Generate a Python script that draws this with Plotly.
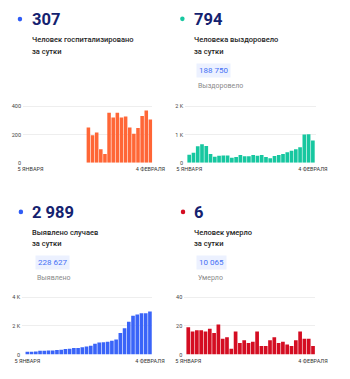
import plotly.graph_objects as go

W, H = 350, 379

# ---------------- data ----------------
day_index = list(range(30))
x_tick_labels = ["5 ЯНВАРЯ", "4 ФЕВРАЛЯ"]

hospitalized = [None] * 14 + [250, 196, 215, 97, 62, 354, 321, 354, 321, 328,
                              250, 206, 247, 331, 370, 307]
recovered = [287, 356, 586, 655, 597, 310, 218, 253, 264, 264, 184, 207, 276, 230, 230,
             276, 253, 276, 207, 161, 241, 276, 310, 379, 425, 483, 552, 1000, 1011, 794]
cases = [206, 206, 210, 270, 274, 276, 278, 320, 343, 389, 411, 452, 460, 503, 571,
         617, 754, 846, 850, 891, 960, 1051, 1509, 1829, 2286, 2697, 2789, 2870, 2880, 2989]
deaths = [19, 16, 17, 17, 16, 18, 15, 21, 11, 12, 4, 16, 8, 10, 8,
          9, 16, 6, 6, 10, 12, 8, 9, 7, 6, 10, 16, 11, 11, 6]

headline = ["307", "794", "2 989", "6"]
caption_1 = ["Человек госпитализировано", "Человека выздоровело", "Выявлено случаев", "Человек умерло"]
caption_2 = ["за сутки", "за сутки", "за сутки", "за сутки"]
totals = [None, "188 750", "228 627", "10 065"]
total_labels = [None, "Выздоровело", "Выявлено", "Умерло"]

y_tick_vals = [[0, 200, 400], [0, 1000, 2000], [0, 2000, 4000], [0, 20, 40]]
y_tick_text = [["0", "200", "400"], ["0", "1 K", "2 K"], ["0", "2 K", "4 K"], ["0", "20", "40"]]

series = [hospitalized, recovered, cases, deaths]
bar_colors = ["#ff6636", "#17c7a0", "#3a64f8", "#d40d22"]
dot_colors = ["#2f5cf5", "#17c7a0", "#2f5cf5", "#d40d22"]

# ---------------- geometry (px) ----------------
def fx(p):
    return p / W

def fy(p):
    return 1 - p / H

# (left, right, first bar centre, slot width, y0 px, ytop px, ymax)
geo = [
    (15, 153, 23.0, 4.41, 163.0, 105.7, 400),
    (188, 328, 192.3, 4.55, 163.0, 105.7, 2000),
    (14, 153, 19.6, 4.51, 357.3, 299.0, 4000),
    (187, 327, 191.3, 4.59, 357.3, 299.0, 40),
]
# header positions: (dot x, dot y, text x, number y, caption y1, caption y2, box x, box y, label y)
hdr = [
    (11.7, 17.3, 22.7, 17.5, 38.5, 50.0, None, None, None),
    (185.0, 17.0, 195.7, 17.5, 38.5, 50.0, 200.0, 69.0, 85.0),
    (12.7, 212.7, 22.7, 213.0, 233.5, 245.0, 27.3, 264.0, 279.5),
    (185.7, 212.7, 195.7, 213.0, 233.5, 245.0, 200.0, 264.0, 279.5),
]

FONT = "Roboto"
fig = go.Figure()
layout = dict(
    width=W, height=H, margin=dict(l=0, r=0, t=0, b=0),
    paper_bgcolor="white", plot_bgcolor="white",
    showlegend=False, bargap=0.14,
    font=dict(family=FONT),
)
annotations = []
shapes = []

for i in range(4):
    L, R, c0, s, y0, ytop, ymax = geo[i]
    pad = 1.025
    top_px = y0 - (y0 - ytop) * pad
    xa = "x" if i == 0 else f"x{i+1}"
    ya = "y" if i == 0 else f"y{i+1}"
    xkey = "xaxis" if i == 0 else f"xaxis{i+1}"
    ykey = "yaxis" if i == 0 else f"yaxis{i+1}"
    fig.add_trace(go.Bar(x=day_index, y=series[i], marker=dict(color=bar_colors[i], line=dict(width=0)),
                         xaxis=xa, yaxis=ya, hoverinfo="skip"))
    layout[xkey] = dict(
        domain=[fx(L), fx(R)], anchor=ya,
        range=[(L - c0) / s, (R - c0) / s],
        tickmode="array", tickvals=[day_index[0], day_index[-1]], ticktext=x_tick_labels,
        tickfont=dict(size=5.5, color="#333333", family=FONT),
        showgrid=False, zeroline=False, showline=False, ticks="", ticklabelstandoff=2,
        fixedrange=True,
    )
    layout[ykey] = dict(
        domain=[fy(y0), fy(top_px)], anchor=xa,
        range=[0, ymax * pad],
        tickmode="array", tickvals=y_tick_vals[i], ticktext=y_tick_text[i],
        tickfont=dict(size=5.5, color="#444444", family=FONT),
        showgrid=True, gridcolor="#eeeeee", gridwidth=1,
        zeroline=False, showline=False, ticks="", ticklabelstandoff=1,
        fixedrange=True,
    )

    dx, dy, tx, ny, c1y, c2y, bx, by, ly = hdr[i]
    shapes.append(dict(type="circle", xref="paper", yref="paper",
                       x0=fx(dx - 2.4), x1=fx(dx + 2.4), y0=fy(dy + 2.4), y1=fy(dy - 2.4),
                       fillcolor=dot_colors[i], line=dict(width=0)))
    annotations.append(dict(text=headline[i], x=fx(tx), y=fy(ny), xref="paper", yref="paper",
                            xanchor="left", yanchor="middle", showarrow=False,
                            font=dict(size=16.5, color="#14226f", family=FONT, weight="bold")))
    annotations.append(dict(text=caption_1[i], x=fx(tx), y=fy(c1y), xref="paper", yref="paper",
                            xanchor="left", yanchor="middle", showarrow=False,
                            font=dict(size=7.5, color="#1e1e1e", family=FONT, weight=500)))
    annotations.append(dict(text=caption_2[i], x=fx(tx), y=fy(c2y), xref="paper", yref="paper",
                            xanchor="left", yanchor="middle", showarrow=False,
                            font=dict(size=7.5, color="#1e1e1e", family=FONT, weight=500)))
    if totals[i]:
        annotations.append(dict(text=totals[i], x=fx(bx), y=fy(by), xref="paper", yref="paper",
                                xanchor="left", yanchor="middle", showarrow=False,
                                bgcolor="#ecf1ff", borderpad=2,
                                font=dict(size=8, color="#4470f5", family=FONT)))
        annotations.append(dict(text=total_labels[i], x=fx(bx), y=fy(ly), xref="paper", yref="paper",
                                xanchor="left", yanchor="middle", showarrow=False,
                                font=dict(size=7, color="#8a8a8a", family=FONT)))

layout["annotations"] = annotations
layout["shapes"] = shapes
fig.update_layout(**layout)
fig.write_html("out.html")
